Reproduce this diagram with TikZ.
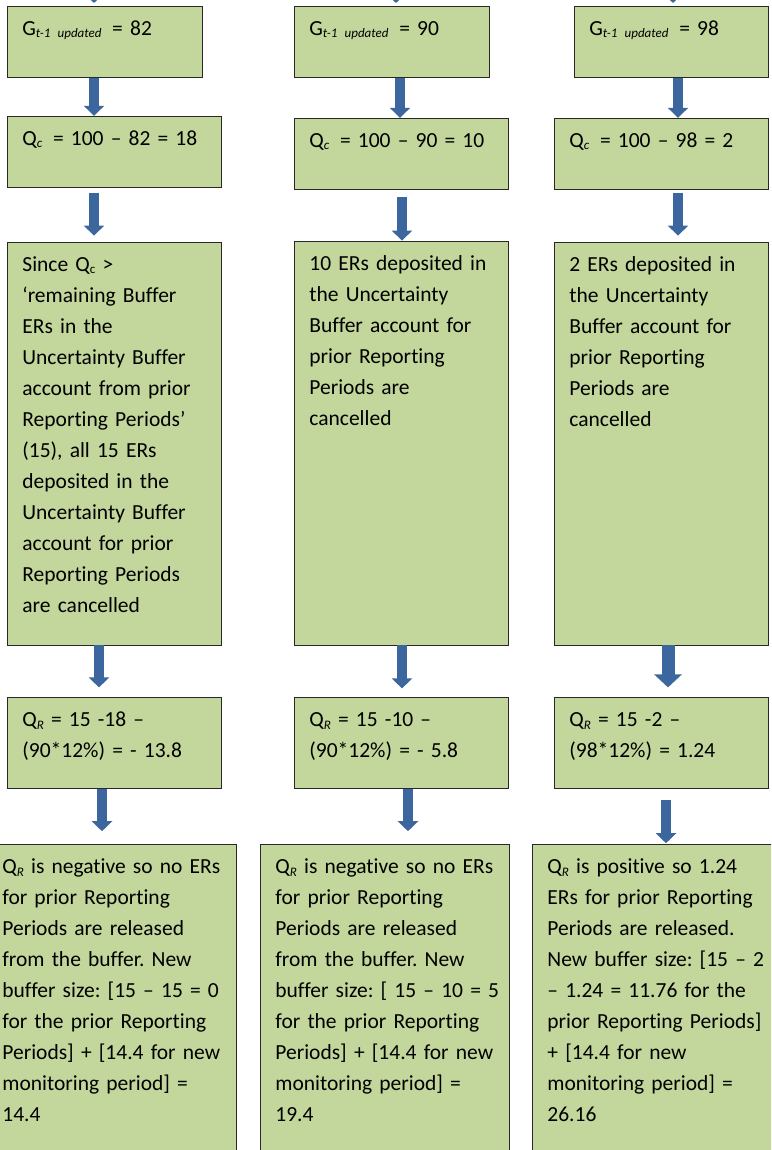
\documentclass[tikz,border=0pt]{standalone}
\usepackage{fontspec}
\setmainfont{Carlito}[Ligatures=NoCommon]
\definecolor{boxgreen}{RGB}{195,214,155}
\definecolor{boxedge}{RGB}{40,40,40}
\definecolor{flowblue}{RGB}{60,102,158}
\usetikzlibrary{arrows.meta}
\usetikzlibrary{positioning}
\newcommand{\lowsub}[1]{\raisebox{-2.5pt}{\fontsize{13pt}{13pt}\selectfont\itshape #1}}
\newcommand{\lowsubup}[1]{\raisebox{-2.5pt}{\fontsize{13pt}{13pt}\selectfont #1}}
\tikzset{
  stepbox/.style={draw=boxedge, line width=0.8pt, fill=boxgreen, anchor=north west,
    align=left, inner xsep=15pt, inner ysep=0pt, text height=29pt,
    font=\fontsize{21.5pt}{31pt}\selectfont\frenchspacing,
    execute at begin node={\rightskip=0pt plus 1fil minus 40pt\relax}},
  flow/.style={draw=flowblue, line width=10pt, -{Triangle[width=20pt,length=10pt]}},
  bigflow/.style={flow, line width=13pt, -{Triangle[width=27pt,length=13pt]}}
}

\begin{document}
\begin{tikzpicture}[x=1pt, y=-1pt]
  \useasboundingbox (0,0) rectangle (771,1150);
  \clip (0,0) rectangle (771,1150);

  % column 1:
  \node [stepbox, text width=165pt, text depth=42pt] (g1) at (7,6) {G\lowsub{t-1 updated}\, = 82};
  \node [stepbox, text width=184pt, text depth=42pt, below=38pt of g1.south west, anchor=north west] (qc1) {Q\lowsub{c}\, = 100 – 82 = 18};
  \node [stepbox, text width=184pt, text depth=374pt, below=54pt of qc1.south west, anchor=north west] (s1)
    {Since Q\lowsubup{c} >\\ ‘remaining Buffer\\ ERs in the\\ Uncertainty Buffer\\ account from prior\\ Reporting Periods’\\ (15), all 15 ERs\\ deposited in the\\ Uncertainty Buffer\\ account for prior\\ Reporting Periods\\ are cancelled};
  \node [stepbox, text width=184pt, text depth=62pt, below=52pt of s1.south west, anchor=north west] (qr1)
    {Q\lowsub{R} = 15 -18 –\\ (90*12\%) = - 13.8};
  \node [stepbox, text width=219pt, text depth=311pt, below=55pt of qr1.south west, anchor=north west, xshift=-20pt] (r1)
    {Q\lowsub{R} is negative so no ERs\\ for prior Reporting\\ Periods are released\\ from the buffer. New\\ buffer size: [15 – 15 = 0\\ for the prior Reporting\\ Periods] + [14.4 for new\\ monitoring period] =\\ 14.4};

  % column 2:
  \node [stepbox, text width=165pt, text depth=42pt] (g2) at (294,6) {G\lowsub{t-1 updated}\, = 90};
  \node [stepbox, text width=184pt, text depth=42pt, below=40pt of g2.south west, anchor=north west] (qc2) {Q\lowsub{c}\, = 100 – 90 = 10};
  \node [stepbox, text width=184pt, text depth=375pt, below=51pt of qc2.south west, anchor=north west] (s2)
    {10 ERs deposited in\\ the Uncertainty\\ Buffer account for\\ prior Reporting\\ Periods are\\ cancelled};
  \node [stepbox, text width=184pt, text depth=62pt, below=52pt of s2.south west, anchor=north west] (qr2)
    {Q\lowsub{R} = 15 -10 –\\ (90*12\%) = - 5.8};
  \node [stepbox, text width=219pt, text depth=311pt, below=55pt of qr2.south west, anchor=north west, xshift=-34pt] (r2)
    {Q\lowsub{R} is negative so no ERs\\ for prior Reporting\\ Periods are released\\ from the buffer. New\\ buffer size: [ 15 – 10 = 5\\ for the prior Reporting\\ Periods] + [14.4 for new\\ monitoring period] =\\ 19.4};

  % column 3:
  \node [stepbox, text width=164pt, text depth=42pt] (g3) at (574,6) {G\lowsub{t-1 updated}\, = 98};
  \node [stepbox, text width=184pt, text depth=42pt, below=40pt of g3.south east, anchor=north east] (qc3) {Q\lowsub{c}\, = 100 – 98 = 2};
  \node [stepbox, text width=184pt, text depth=374pt, below=52pt of qc3.south west, anchor=north west] (s3)
    {2 ERs deposited in\\ the Uncertainty\\ Buffer account for\\ prior Reporting\\ Periods are\\ cancelled};
  \node [stepbox, text width=184pt, text depth=62pt, below=52pt of s3.south west, anchor=north west] (qr3)
    {Q\lowsub{R} = 15 -2 –\\ (98*12\%) = 1.24};
  \node [stepbox, text width=219pt, text depth=311pt, below=55pt of qr3.south west, anchor=north west, xshift=-22pt] (r3)
    {Q\lowsub{R} is positive so 1.24\\ ERs for prior Reporting\\ Periods are released.\\ New buffer size: [15 – 2\\ – 1.24 = 11.76 for the\\ prior Reporting Periods]\\ + [14.4 for new\\ monitoring period] =\\ 26.16};

  % arrows coming in from above:
  \coordinate (in1) at (94,-40);
  \coordinate (in2) at (396,-40);
  \coordinate (in3) at (673,-40);
  \draw [flow, shorten >=3pt] (in1) -- (g1.north -| in1);
  \draw [flow, shorten >=3pt] (in2) -- (g2.north -| in2);
  \draw [flow, shorten >=3pt] (in3) -- (g3.north -| in3);

  % column 1 arrows:
  \draw [flow] (g1.south -| 94,0) -- (qc1.north -| 94,0);
  \draw [flow, shorten <=5pt, shorten >=6pt] (qc1.south -| 94,0) -- (s1.north -| 94,0);
  \draw [flow, shorten >=10pt] (s1.south -| 99,0) -- (qr1.north -| 99,0);
  \draw [flow, shorten >=13pt] (qr1.south -| 102,0) -- (r1.north -| 102,0);

  % column 2 arrows:
  \draw [flow] (g2.south -| 400,0) -- (qc2.north -| 400,0);
  \draw [flow, shorten <=7pt] (qc2.south -| 402,0) -- (s2.north -| 402,0);
  \draw [flow, shorten >=9pt] (s2.south -| 402,0) -- (qr2.north -| 402,0);
  \draw [flow, shorten >=13pt] (qr2.south -| 408,0) -- (r2.north -| 408,0);

  % column 3 arrows:
  \draw [flow] (g3.south -| 678,0) -- (qc3.north -| 678,0);
  \draw [flow, shorten <=3pt, shorten >=6pt] (qc3.south -| 678,0) -- (s3.north -| 678,0);
  \draw [bigflow, shorten >=10pt] (s3.south -| 668,0) -- (qr3.north -| 668,0);
  \draw [flow, shorten <=11pt, shorten >=1pt] (qr3.south -| 666,0) -- (r3.north -| 666,0);

\end{tikzpicture}
\end{document}
